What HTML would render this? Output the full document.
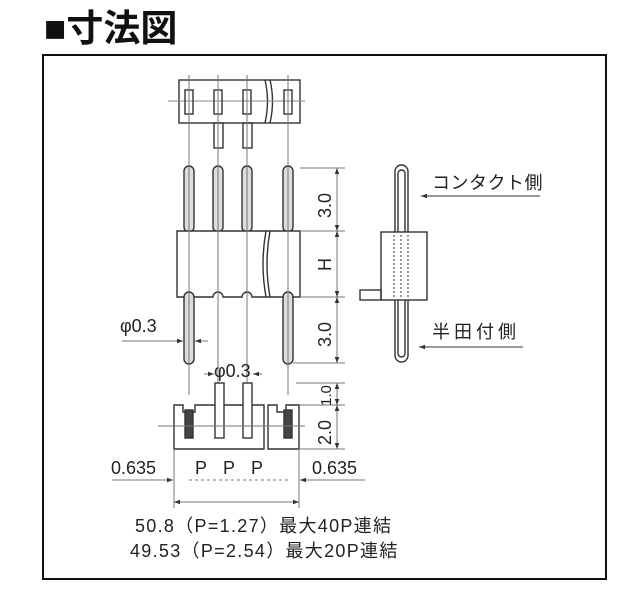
<!DOCTYPE html>
<html><head><meta charset="utf-8"><style>
body{margin:0;background:#fff;width:640px;height:600px;overflow:hidden}
svg{display:block}
text{font-family:"Liberation Sans","Noto Sans CJK JP",sans-serif;fill:#222}
</style></head><body>
<svg width="640" height="600" viewBox="0 0 640 600">
<defs><marker id="a" viewBox="0 0 8 8" refX="8" refY="4" markerWidth="6" markerHeight="6" orient="auto-start-reverse"><path d="M0 1 L8 4 L0 7 Z" fill="#333"/></marker></defs>
<text x="44" y="41" font-size="37" font-weight="bold" style="fill:#111">■寸法図</text>
<rect x="43" y="55" width="563" height="524" fill="none" stroke="#111" stroke-width="2"/>
<g stroke="#333" stroke-width="1.4" fill="none">
<rect x="179" y="80" width="121" height="43" fill="#fff"/>
<path d="M265 80 q5 21 0 43 M270 80 q5 21 0 43" />
<line x1="168" y1="101" x2="305" y2="101" stroke="#888" stroke-width="1"/>
<rect x="185" y="90" width="8" height="24"/><rect x="214" y="90" width="8" height="24"/><rect x="243" y="90" width="8" height="24"/><rect x="284" y="90" width="8" height="24"/>
<rect x="214" y="123" width="9" height="25"/><rect x="243" y="123" width="9" height="25"/>
<g fill="#ddd">
<rect x="184" y="166" width="10" height="66" rx="5"/><rect x="213" y="166" width="10" height="66" rx="5"/><rect x="242" y="166" width="10" height="66" rx="5"/><rect x="283" y="166" width="10" height="66" rx="5"/>
<rect x="184" y="289" width="10" height="75" rx="5"/><rect x="283" y="289" width="10" height="75" rx="5"/>
</g>
<path d="M177 231 H300 V297 H293 a5 5 0 0 0 -10 0 H270 H252 a5 5 0 0 0 -10 0 H223 a5 5 0 0 0 -10 0 H194 a5 5 0 0 0 -10 0 H177 Z" fill="#fff"/>
<path d="M266 231 q-6 33 0 66 M270 231 q-6 33 0 66"/>
<g stroke="#777" stroke-width="1">
<line x1="189" y1="75" x2="189" y2="395"/><line x1="218" y1="75" x2="218" y2="395"/><line x1="247" y1="75" x2="247" y2="395"/><line x1="288" y1="75" x2="288" y2="395"/>
<line x1="300" y1="168" x2="345" y2="168"/><line x1="300" y1="231" x2="345" y2="231"/><line x1="300" y1="297" x2="345" y2="297"/><line x1="293" y1="363" x2="345" y2="363"/>
<line x1="337" y1="168" x2="337" y2="231" marker-start="url(#a)" marker-end="url(#a)"/>
<line x1="337" y1="231" x2="337" y2="297" marker-start="url(#a)" marker-end="url(#a)"/>
<line x1="337" y1="297" x2="337" y2="363" marker-start="url(#a)" marker-end="url(#a)"/>
<line x1="122" y1="341" x2="183" y2="341" marker-end="url(#a)"/><line x1="208" y1="341" x2="195" y2="341" marker-end="url(#a)"/>
</g>
<rect x="395" y="165" width="13" height="197" rx="6.5" fill="#fff"/>
<rect x="398" y="170" width="7" height="187" rx="3.5"/>
<rect x="381" y="232" width="46" height="68" fill="#fff"/>
<rect x="360" y="290" width="21" height="10"/>
<path d="M394 235 V298 M401 235 V298 M408 235 V298" stroke-dasharray="2 2" stroke-width="1"/>
<line x1="540" y1="196" x2="421" y2="196" stroke-width="1" marker-end="url(#a)"/>
<line x1="523" y1="347" x2="419" y2="347" stroke-width="1" marker-end="url(#a)"/>
<path d="M174 405 H183 V412 H195 V405 H264 V449 H174 Z" fill="#fff"/>
<path d="M268 405 H277 V412 H286 V405 H299 V449 H268 Z" fill="#fff"/>
<rect x="215" y="383" width="9" height="55" fill="#fff"/><rect x="243" y="383" width="9" height="55" fill="#fff"/>
<rect x="185" y="410" width="8" height="28" fill="#444"/><rect x="284" y="410" width="8" height="28" fill="#444"/>
<g stroke="#777" stroke-width="1">
<line x1="158" y1="426" x2="305" y2="426"/>
<line x1="296" y1="383" x2="345" y2="383"/><line x1="300" y1="405" x2="345" y2="405"/><line x1="300" y1="449" x2="345" y2="449"/>
<line x1="337" y1="383" x2="337" y2="405" marker-start="url(#a)" marker-end="url(#a)"/>
<line x1="337" y1="405" x2="337" y2="449" marker-start="url(#a)" marker-end="url(#a)"/>
<line x1="174" y1="449" x2="174" y2="508"/><line x1="299" y1="449" x2="299" y2="508"/>
<line x1="112" y1="480" x2="173" y2="480" marker-end="url(#a)"/><line x1="365" y1="480" x2="300" y2="480" marker-end="url(#a)"/>
<line x1="189" y1="480" x2="288" y2="480" stroke-dasharray="3 3"/>
<line x1="174" y1="502" x2="299" y2="502" marker-start="url(#a)" marker-end="url(#a)"/>
<line x1="204" y1="374" x2="214" y2="374" marker-end="url(#a)"/><line x1="262" y1="374" x2="253" y2="374" marker-end="url(#a)"/>
</g>
</g>
<g font-size="18">
<text transform="translate(331,218) rotate(-90)">3.0</text>
<text transform="translate(331,271) rotate(-90)">H</text>
<text transform="translate(331,347) rotate(-90)">3.0</text>
<text x="120" y="332">φ0.3</text>
<text x="214" y="377">φ0.3</text>
<text transform="translate(331,406) rotate(-90)" font-size="15">1.0</text>
<text transform="translate(331,445) rotate(-90)">2.0</text>
<text x="111" y="474">0.635</text>
<text x="312" y="474">0.635</text>
<text x="195" y="474">P</text><text x="223" y="474">P</text><text x="251" y="474">P</text>
<text x="432" y="189" letter-spacing="0.5">コンタクト側</text>
<text x="432" y="338" letter-spacing="4">半田付側</text>
<text x="135" y="532" letter-spacing="1.3">50.8（P=1.27）最大40P連結</text>
<text x="130" y="557" letter-spacing="1.3">49.53（P=2.54）最大20P連結</text>
</g>
</svg>
</body></html>
